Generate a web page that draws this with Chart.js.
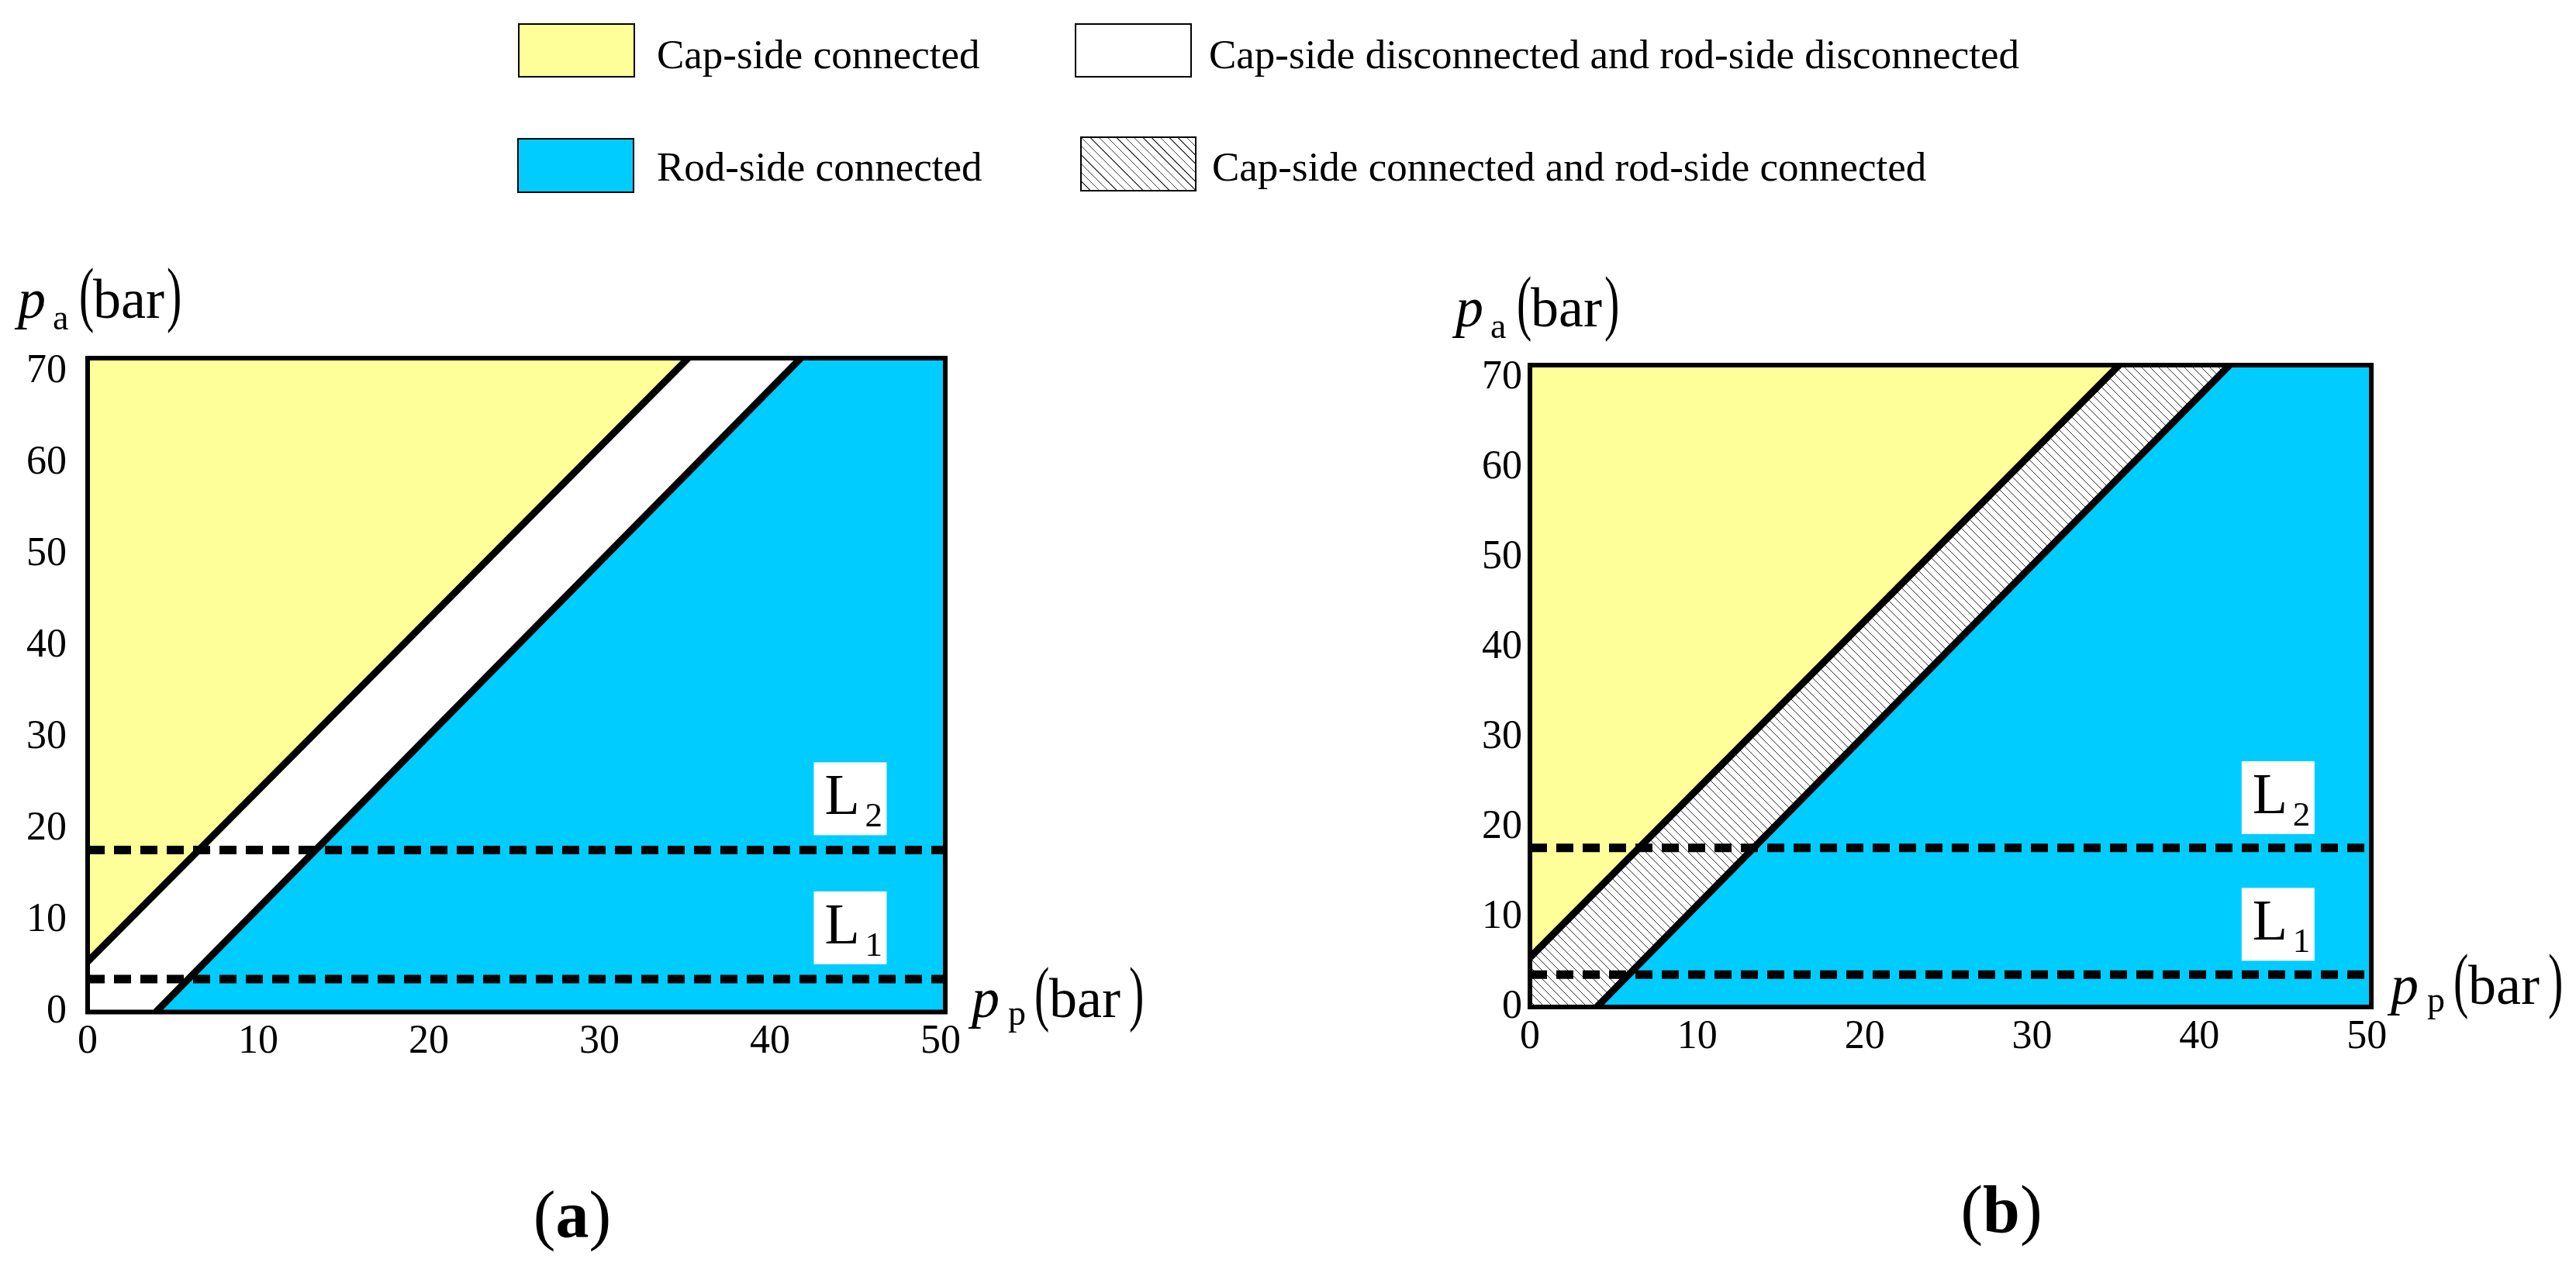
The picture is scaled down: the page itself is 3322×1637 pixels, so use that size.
<!DOCTYPE html>
<html>
<head>
<meta charset="utf-8">
<script src="https://cdn.jsdelivr.net/npm/chart.js@4/dist/chart.umd.min.js"></script>
<style>
  body { margin: 0; background: #fff; width: 3322px; height: 1637px; position: relative; overflow: hidden;
         font-family: "Liberation Serif", "Times New Roman", serif; color: #000; }
  canvas { position: absolute; top: 0; }
  .box { position: absolute; box-sizing: border-box; border: 2px solid #000; }
  .txt { position: absolute; font-size: 53px; line-height: 1; white-space: nowrap; }
  .cap { position: absolute; font-size: 86px; line-height: 1; white-space: nowrap; transform: translateX(-50%); }
</style>
</head>
<body>
<div class="box" style="left:668px;top:30px;width:151px;height:70px;background:#ffff99"></div>
<div class="txt" style="left:847px;top:44px">Cap-side connected</div>
<div class="box" style="left:1386px;top:30px;width:151px;height:70px;background:#fff"></div>
<div class="txt" style="left:1559px;top:44px">Cap-side disconnected and rod-side disconnected</div>
<div class="box" style="left:667px;top:178px;width:151px;height:71px;background:#00ccff"></div>
<div class="txt" style="left:847px;top:189px">Rod-side connected</div>
<div class="box" style="left:1393px;top:176px;width:150px;height:71px;background:repeating-linear-gradient(45deg,#fff 0 7px,#444 7px 8px)"></div>
<div class="txt" style="left:1563px;top:189px">Cap-side connected and rod-side connected</div>

<canvas id="chartA" width="1661" height="1637" style="left:0"></canvas>
<canvas id="chartB" width="1661" height="1637" style="left:1661px"></canvas>

<div class="cap" style="left:738px;top:1524px">(<b>a</b>)</div>
<div class="cap" style="left:2581px;top:1517px">(<b>b</b>)</div>

<script>
const xTicks = [0, 10, 20, 30, 40, 50];
const yTicks = [0, 10, 20, 30, 40, 50, 60, 70];
const xMax = 50.27;
const yMax = 71.44;

// switching boundaries (p_p, p_a)
const capLineX = [0, 35.2];
const capLineY = [5.5, 71.44];
const rodLineX = [4.0, 41.8];
const rodLineY = [0, 71.44];

// load lines L1, L2
const levelNames = ['1', '2'];
const levelValues = [3.6, 17.7];
const levelLabelX = 44.7;
const levelLabelY = [9.2, 23.3];

const FONT = '"Liberation Serif", "Times New Roman", serif';

function pts(xs, ys) {
    return xs.map((x, i) => ({ x: x, y: ys[i] }));
}

function hatch() {
    const c = document.createElement('canvas');
    c.width = 11; c.height = 11;
    const g = c.getContext('2d');
    g.fillStyle = '#fff';
    g.fillRect(0, 0, 11, 11);
    g.strokeStyle = '#333';
    g.lineWidth = 1;
    g.beginPath(); g.moveTo(-1, -1); g.lineTo(12, 12); g.stroke();
    return g.createPattern(c, 'repeat');
}

function makeChart(id, panel) {
    const capLine = pts(capLineX, capLineY);
    const rodLine = pts(rodLineX, rodLineY);
    const capArea = capLine.concat([{ x: 0, y: yMax }]);
    const rodArea = rodLine.concat([{ x: xMax, y: yMax }, { x: xMax, y: 0 }]);
    const gapArea = capLine.concat(rodLine.slice().reverse(), [{ x: 0, y: 0 }]);

    const region = (data, color) => ({
        data: data, fill: 'shape', backgroundColor: color, borderColor: 'rgba(0,0,0,0)',
        borderWidth: 0, pointRadius: 0, order: 3
    });
    const edge = (data) => ({
        data: data, fill: false, borderColor: '#000', borderWidth: 9, pointRadius: 0, order: 1
    });
    const level = (v) => ({
        data: [{ x: 0, y: v }, { x: xMax, y: v }], fill: false, borderColor: '#000',
        borderWidth: 11, borderDash: [22, 12], pointRadius: 0, order: 0
    });

    const canvasW = 1661;
    const framePlugin = {
        id: 'frame',
        afterDatasetsDraw(chart) {
            const ctx = chart.ctx;
            const a = chart.chartArea;
            const xs = chart.scales.x, ys = chart.scales.y;
            ctx.save();
            ctx.strokeStyle = '#000';
            ctx.lineWidth = 6;
            ctx.strokeRect(a.left, a.top, a.right - a.left, a.bottom - a.top);

            // L1 / L2 tags
            levelNames.forEach((n, i) => {
                const cx = xs.getPixelForValue(levelLabelX);
                const cy = ys.getPixelForValue(levelLabelY[i]);
                const l = cx - 47, t = cy - 47;
                ctx.fillStyle = '#fff';
                ctx.fillRect(l, t, 94, 94);
                ctx.fillStyle = '#000';
                ctx.textBaseline = 'alphabetic';
                ctx.textAlign = 'left';
                ctx.font = '74px ' + FONT;
                ctx.fillText('L', l + 14, t + 67);
                ctx.font = '45px ' + FONT;
                ctx.fillText(n, l + 66, t + 83);
            });

            // axis titles: p_x (bar), with tall thin brackets
            const paren = (ch, x, base) => {
                ctx.save();
                ctx.translate(x, base);
                ctx.scale(1, 1.6);
                ctx.font = '58px ' + FONT;
                ctx.fillText(ch, 0, 0);
                ctx.restore();
            };
            const title = (x0, base, sub, subDx, subDy, offs) => {
                ctx.font = 'italic 72px ' + FONT;
                ctx.fillText('p', x0, base);
                ctx.font = '46px ' + FONT;
                ctx.fillText(sub, x0 + subDx, base + subDy);
                paren('(', x0 + offs[0], base);
                ctx.font = '72px ' + FONT;
                ctx.fillText('bar', x0 + offs[1], base);
                paren(')', x0 + offs[2], base);
            };
            title(a.left + panel.yTitle[0], a.top + panel.yTitle[1], 'a', 45, 15, [79, 97, 192]);
            title(a.right + panel.xTitle[0], a.bottom + panel.xTitle[1], 'p', 47, 10, [81, 100, 203]);
            ctx.restore();
        }
    };

    return new Chart(document.getElementById(id), {
        type: 'line',
        data: {
            datasets: [
                level(levelValues[0]),
                level(levelValues[1]),
                edge(capLine),
                edge(rodLine),
                region(capArea, '#ffff99'),
                region(rodArea, '#00ccff'),
                region(gapArea, panel.gapFill)
            ]
        },
        options: {
            responsive: false,
            animation: false,
            events: [],
            layout: {
                padding: { left: 0, top: panel.top, right: canvasW - (panel.right - panel.canvasLeft), bottom: 0 }
            },
            plugins: { legend: { display: false }, tooltip: { enabled: false } },
            scales: {
                x: {
                    type: 'linear', min: 0, max: xMax,
                    grid: { display: false, drawTicks: false },
                    border: { display: false },
                    afterBuildTicks: s => { s.ticks = xTicks.map(v => ({ value: v })); },
                    afterFit: s => { s.height = 1637 - panel.bottom; },
                    ticks: { color: '#000', font: { family: FONT, size: 52 }, padding: 8, maxRotation: 0, autoSkip: false }
                },
                y: {
                    type: 'linear', min: 0, max: yMax,
                    grid: { display: false, drawTicks: false },
                    border: { display: false },
                    afterBuildTicks: s => { s.ticks = yTicks.map(v => ({ value: v })); },
                    afterFit: s => { s.width = panel.left - panel.canvasLeft; },
                    ticks: { color: '#000', font: { family: FONT, size: 52 }, padding: panel.yPad, autoSkip: false }
                }
            }
        },
        plugins: [framePlugin]
    });
}

makeChart('chartA', {
    canvasLeft: 0, left: 113, top: 462, right: 1219, bottom: 1305.5, yPad: 27,
    gapFill: '#ffffff', yTitle: [-90, -52], xTitle: [34, 6.5]
});
makeChart('chartB', {
    canvasLeft: 1661, left: 1973, top: 471, right: 3058, bottom: 1299, yPad: 10,
    gapFill: hatch(), yTitle: [-96, -50], xTitle: [25, -4]
});
</script>
</body>
</html>
